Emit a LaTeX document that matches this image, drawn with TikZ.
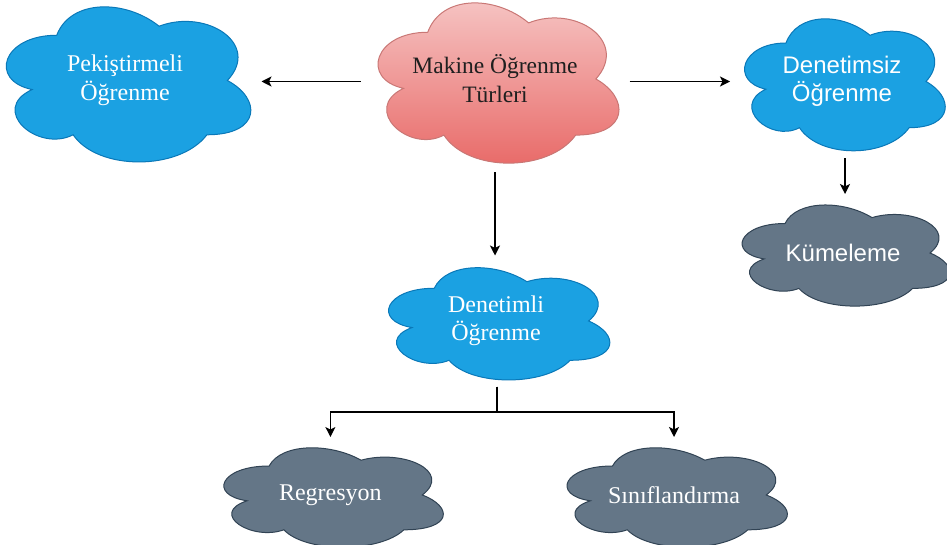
\documentclass[tikz,border=0pt]{standalone}
\usepackage{fontspec}
\setmainfont{Liberation Serif}
\newfontfamily\arialfont{Liberation Sans}
\usetikzlibrary{arrows.meta,calc}

\definecolor{cblue}{HTML}{1BA1E2}
\definecolor{cblueline}{HTML}{0A78B8}
\definecolor{cgray}{HTML}{647687}
\definecolor{cgrayline}{HTML}{314354}
\definecolor{cpinktop}{HTML}{F6C6C5}
\definecolor{cpinkbot}{HTML}{E86765}
\definecolor{cpinkline}{HTML}{C97775}

% cloud outline in unit coordinates (y grows downwards inside the box)
\tikzset{
  cloudpath/.style={insert path={
    (0.25,0.25) .. controls (0.05,0.25) and (0,0.5) .. (0.16,0.55)
    .. controls (0,0.66) and (0.18,0.9) .. (0.31,0.8)
    .. controls (0.4,1) and (0.7,1) .. (0.8,0.8)
    .. controls (1,0.8) and (1,0.6) .. (0.875,0.5)
    .. controls (1,0.3) and (0.8,0.1) .. (0.625,0.2)
    .. controls (0.5,0.05) and (0.3,0.05) .. (0.25,0.25) -- cycle}}
}
% \cloudnode{name}{cx}{cy}{w}{h}{cloud style}{text style}{text}
\newcommand\cloudnode[8]{%
  \begin{scope}[shift={({#2-#4/2},{#3-#5/2})}, x={(#4pt,0pt)}, y={(0pt,-#5pt)}]
    \path[line width=1pt, #6, cloudpath];
  \end{scope}
  \node[cloudbox={#4}{#5}, #7] (#1) at (#2,#3) {#8};}

\tikzset{
  cloudbox/.style 2 args={rectangle, inner sep=0pt, outer sep=0pt,
    minimum width=#1pt, minimum height=#2pt, align=center},
  bluefill/.style={fill=cblue, draw=cblueline},
  grayfill/.style={fill=cgray, draw=cgrayline},
  pinkfill/.style={top color=cpinktop, bottom color=cpinkbot, draw=cpinkline},
  serifw/.style={text=white, font=\fontsize{24}{28.5}\selectfont},
  serifk/.style={text=black!88, font=\fontsize{23.5}{29}\selectfont},
  sansw/.style={text=white, font=\arialfont\fontsize{24}{27.5}\selectfont},
  arr/.style={line width=1.2pt, -{Stealth[length=10pt,width=10pt,inset=2.5pt]}}
}

\begin{document}
\begin{tikzpicture}[x=1pt, y=-1pt]
  \useasboundingbox (0,0) rectangle (947,545);

  % clouds
  \cloudnode{mk}{495}{79}{269}{187}{pinkfill}{serifk}{Makine Öğrenme\\Türleri}
  \cloudnode{pek}{125}{80.5}{273}{181}{bluefill}{serifw}{Pekiştirmeli\\Öğrenme}
  \cloudnode{dsiz}{842}{81.5}{224}{154}{bluefill}{sansw}{Denetimsiz\\Öğrenme}
  \cloudnode{kum}{843}{253}{232}{118}{grayfill}{sansw}{Kümeleme}
  \cloudnode{dli}{496}{321}{247}{131}{bluefill}{serifw}{Denetimli\\Öğrenme}
  \cloudnode{reg}{330.4}{495}{245}{116}{grayfill}{serifw}{Regresyon}
  \cloudnode{sin}{674}{495}{246}{116}{grayfill}{serifw}{Sınıflandırma}

  % connectors
  \draw[arr] ([yshift=-2.5pt]mk.west) -- ([yshift=-2.5pt]mk.west -| pek.east);
  \draw[arr] ([yshift=-2.5pt]mk.east) -- ([yshift=-2.5pt]mk.east -| dsiz.west);
  \draw[arr] (mk.south) -- (mk.south |- dli.north);
  \draw[arr] ([xshift=3pt]dsiz.south) -- ([xshift=3pt]dsiz.south |- kum.north);
  \draw[arr] ([xshift=1pt]dli.south) -- ++(0,25.5) -| (reg.north);
  \draw[arr] ([xshift=1pt]dli.south) -- ++(0,25.5) -| (sin.north);
\end{tikzpicture}
\end{document}
